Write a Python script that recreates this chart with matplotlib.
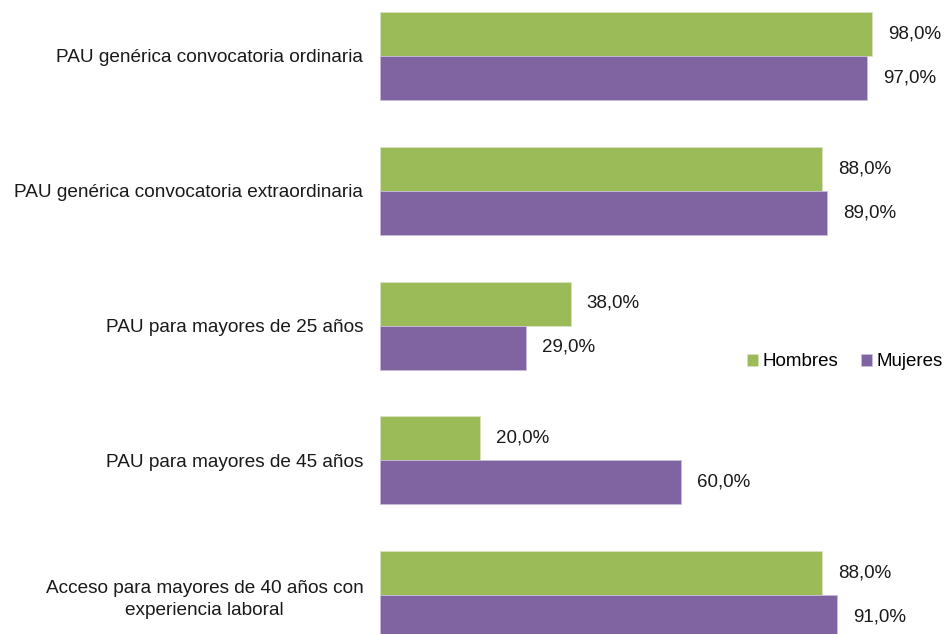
import numpy as np
import matplotlib.pyplot as plt

plt.rcParams['font.family'] = ['Liberation Sans', 'DejaVu Sans']

categories = [
    "PAU genérica convocatoria ordinaria",
    "PAU genérica convocatoria extraordinaria",
    "PAU para mayores de 25 años",
    "PAU para mayores de 45 años",
    "Acceso para mayores de 40 años con\nexperiencia laboral",
]
hombres = [98.0, 88.0, 38.0, 20.0, 88.0]
mujeres = [97.0, 89.0, 29.0, 60.0, 91.0]
series_names = ["Hombres", "Mujeres"]
colors = ["#9BBB59", "#8064A2"]

W, H = 947, 634
fig = plt.figure(figsize=(W / 100, H / 100), dpi=100)

# axes placed in pixels: x 0 at 380px, 5.02px per %, group spacing ~134.75px
ppu = 134.75
top_px = 56 - 0.5 * ppu
bot_px = 595 + 0.5 * ppu
ax = fig.add_axes([380 / W, (H - bot_px) / H, 502 / W, (bot_px - top_px) / H])

y = np.arange(len(categories))
h = 44 / ppu
b1 = ax.barh(y - h / 2, hombres, height=h, color=colors[0], label=series_names[0],
             edgecolor="#d9e4c0", linewidth=0.6)
b2 = ax.barh(y + h / 2, mujeres, height=h, color=colors[1], label=series_names[1],
             edgecolor="#c9bcd9", linewidth=0.6)

for bars, vals in [(b1, hombres), (b2, mujeres)]:
    for bar, v in zip(bars, vals):
        ax.annotate(f"{v:.1f}%".replace(".", ","),
                    (bar.get_width(), bar.get_y() + bar.get_height() / 2),
                    xytext=(16, 0), textcoords="offset pixels",
                    ha="left", va="center", fontsize=13.5, color="#1a1a1a")

ax.set_xlim(0, 100)
ax.set_ylim(len(categories) - 0.5, -0.5)
ax.set_yticks(y)
ax.set_yticklabels(categories, fontsize=13.7, color="#1a1a1a",
                   multialignment="center", linespacing=1.35)
ax.tick_params(axis="y", length=0, pad=12)
ax.set_xticks([])
for s in ax.spines.values():
    s.set_visible(False)

fig.legend(handles=[b1, b2], labels=series_names, loc="center left",
           bbox_to_anchor=(739 / W, 1 - 362 / H), ncol=2, frameon=False,
           fontsize=13.5, handlelength=0.6, handleheight=0.6, handletextpad=0.25,
           columnspacing=1.2, borderaxespad=0)

fig.savefig("out.png", dpi=100)
